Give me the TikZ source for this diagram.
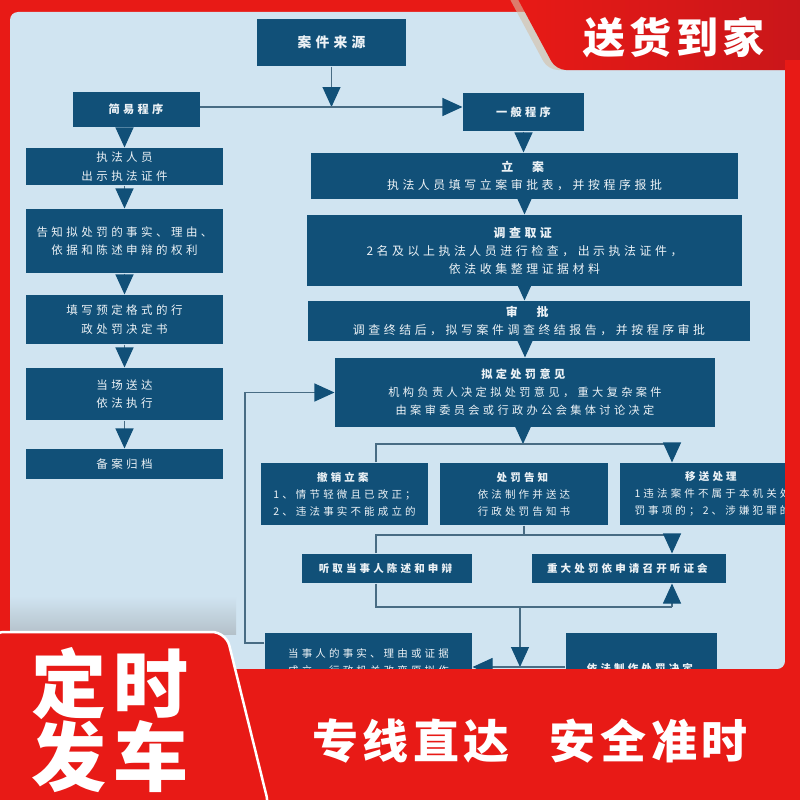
\documentclass[tikz,border=0pt]{standalone}
\usepackage{fontspec}
\usepackage{xcolor}
\usepackage{tikz}
\usetikzlibrary{positioning,arrows.meta}
\newfontfamily\cjk[LetterSpace=30]{Noto Sans CJK SC}
\newfontfamily\cjkbig[LetterSpace=10]{Noto Sans CJK SC}
\definecolor{boxblue}{RGB}{17,80,120}
\definecolor{paneblue}{RGB}{208,228,241}
\definecolor{linegray}{RGB}{72,108,132}
\definecolor{bannerred}{RGB}{232,26,22}
\definecolor{darkred}{RGB}{200,22,26}
\definecolor{boxtext}{RGB}{236,242,246}
\definecolor{shadowtan}{RGB}{214,190,165}

\begin{document}
\begin{tikzpicture}[x=1pt, y=-1pt, line width=1.1pt]
\tikzstyle{box}=[fill=boxblue, text=boxtext, align=center, inner sep=0pt]
\tikzstyle{headbox}=[box, font=\cjk\bfseries\fontsize{11.2}{14}\selectfont]
\tikzstyle{colbox}=[box, minimum width=197pt, font=\cjk\fontsize{11.5}{18.5}\selectfont]
\tikzstyle{bodybox}=[box, font=\cjk\fontsize{11.9}{18}\selectfont]
\tikzstyle{lowbox}=[box, minimum height=62pt, font=\cjk\fontsize{10.5}{17}\selectfont]
\tikzstyle{link}=[draw=linegray]
\tikzstyle{arr}=[link, -{Triangle[width=18pt, length=20pt, color=boxblue]}]
\useasboundingbox (0,0) rectangle (800,800);
\fill[bannerred] (0,0) rectangle (800,800);
\fill[paneblue, rounded corners=8pt] (10,12) rectangle (785,669);

\node[headbox, minimum width=149pt, minimum height=47pt,
  font=\cjk\bfseries\fontsize{13.8}{16}\selectfont] (src) at (331.5,42.5) {案件来源};
\node[headbox, minimum width=127pt, minimum height=35pt] (easy) at (136,109.5) {简易程序};
\node[headbox, minimum width=121pt, minimum height=38pt] (general) at (523.5,112) {一般程序};

\node[colbox, minimum height=37pt] (c1) at (124.5,166.5) {执法人员\\出示执法证件};
\node[colbox, minimum height=64pt] (c2) at (124.5,241) {告知拟处罚的事实、理由、\\依据和陈述申辩的权利};
\node[colbox, minimum height=49pt] (c3) at (124.5,319.5) {填写预定格式的行\\政处罚决定书};
\node[colbox, minimum height=52pt] (c4) at (124.5,394) {当场送达\\依法执行};
\node[colbox, minimum height=30pt] (c5) at (124.5,464) {备案归档};

\node[bodybox, minimum width=427pt, minimum height=46pt] (filing) at (524.5,176)
  {\textbf{立　案}\\执法人员填写立案审批表，并按程序报批};
\node[bodybox, minimum width=435pt, minimum height=71pt] (inquiry) at (524.5,250.5)
  {\textbf{调查取证}\\2名及以上执法人员进行检查，出示执法证件，\\依法收集整理证据材料};
\node[bodybox, minimum width=442pt, minimum height=40pt] (approve) at (529,321)
  {\textbf{审　批}\\调查终结后，拟写案件调查终结报告，并按程序审批};
\node[bodybox, minimum width=380pt, minimum height=69pt,
  font=\cjk\fontsize{11.2}{18}\selectfont] (opinion) at (525,392.5)
  {\textbf{拟定处罚意见}\\机构负责人决定拟处罚意见，重大复杂案件\\由案审委员会或行政办公会集体讨论决定};

\node[lowbox, minimum width=167pt] (revoke) at (344.5,494)
  {\textbf{撤销立案}\\1、情节轻微且已改正；\\2、违法事实不能成立的};
\node[lowbox, minimum width=168pt] (notice) at (524,494)
  {\textbf{处罚告知}\\依法制作并送达\\行政处罚告知书};
\node[lowbox, minimum width=185pt] (transfer) at (712.5,494)
  {\textbf{移送处理}\\1违法案件不属于本机关处\\罚事项的；2、涉嫌犯罪的};
\node[lowbox, minimum width=170pt, minimum height=29pt] (hearing) at (387,568.5)
  {\textbf{听取当事人陈述和申辩}};
\node[lowbox, minimum width=194pt, minimum height=29pt] (bighearing) at (629,568.5)
  {\textbf{重大处罚依申请召开听证会}};
\node[lowbox, minimum width=207pt, minimum height=58pt] (accept) at (368.5,662)
  {当事人的事实、理由或证据\\成立，行政机关改变原拟作};
\node[lowbox, minimum width=151pt, minimum height=70pt] (decide) at (641.5,668)
  {\textbf{依法制作处罚决定}};

\coordinate (j0) at (331.5,107);
\coordinate (b1) at (523,444);
\coordinate (b1l) at (376,444);
\coordinate (b1r) at (672,444);
\coordinate (b2l) at (376,535);
\coordinate (b2r) at (672,535);
\coordinate (b3l) at (376,607);
\coordinate (b3r) at (672,607);
\coordinate (b3m) at (520,607);
\coordinate (b4) at (520,667);
\coordinate (fb) at (245,643);

\draw[arr] (src) -- (j0);
\draw[arr] (easy.east |- j0) -- (general.west |- j0);
\draw[arr] (easy.south -| c1) -- (c1);
\draw[arr] (c1) -- (c2);
\draw[arr] (c2) -- (c3);
\draw[arr] (c3) -- (c4);
\draw[arr] (c4) -- (c5);
\draw[arr] (general) -- (general |- filing.north);
\draw[arr] (filing) -- (inquiry);
\draw[arr] (inquiry.south) -- (inquiry.south |- approve.north);
\draw[arr] (approve.south -| opinion) -- (opinion);
\draw[arr] (opinion.south -| b1) -- (b1);
\draw[link] (revoke.north -| b1l) -- (b1l) -- (b1r);
\draw[arr] (b1r) -- (b1r |- transfer.north);
\draw[link] (notice) -- (notice |- b2l);
\draw[link] (hearing.north -| b2l) -- (b2l) -- (b2r);
\draw[arr] (b2r) -- (b2r |- bighearing.north);
\draw[link] (hearing.south -| b3l) -- (b3l) -- (b3r);
\draw[arr] (b3r) -- (b3r |- bighearing.south);
\draw[arr] (b3m) -- (b4);
\draw[arr] (decide.west |- b4) -- (accept.east |- b4);
\draw[arr] (fb -| accept.west) -- (fb) -- (fb |- opinion) -- (opinion.west);

\fill[shadowtan, opacity=.6, rounded corners=10pt] (505,-10) -- (548,70) -- (800,70) -- (800,-10) -- cycle;
\shade[left color=bannerred, right color=darkred, rounded corners=10pt]
  (513,-10) -- (556,70) -- (810,70) -- (810,-10) -- cycle;
\node[font=\cjkbig\bfseries\fontsize{42}{42}\selectfont, text=white] (homedeliv) at (674,37) {送货到家};
\fill[bannerred] (785,60) rectangle (800,800);
\fill[bannerred] (0,669) rectangle (800,800);
\shade[top color=paneblue, bottom color=gray!35!paneblue] (10,596) rectangle (236,634);
\filldraw[fill=bannerred, draw=white, line width=2.5pt, rounded corners=14pt]
  (-10,632) -- (226,632) -- (270,810) -- (-10,810) -- cycle;
\node[font=\cjkbig\bfseries\fontsize{75}{71}\selectfont, text=white, align=center] (schedule) at (110,720) {定时\\发车};
\node[font=\cjkbig\bfseries\fontsize{46}{46}\selectfont, text=white] (slogan) at (530,741) {专线直达\hspace{40pt}安全准时};
\end{tikzpicture}
\end{document}
